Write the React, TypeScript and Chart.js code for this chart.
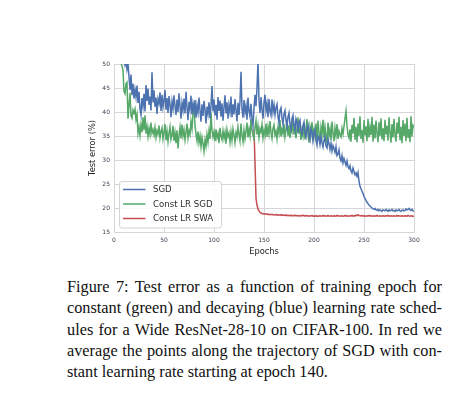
import React, { useEffect, useRef } from "react";
import { Chart, registerables } from "chart.js";

Chart.register(...registerables);

// Test error (%) per epoch, epochs 0..300
const sgdError: number[] = [
  78, 68, 62, 58, 56, 54.5, 53, 52, 51, 50.5,
  51.2, 49.8, 50.6, 48.9, 50.2, 47.3, 44.6, 47.8, 43.5, 45.9,
  42.8, 44.7, 43.1, 45.5, 41.9, 44.2, 40.6, 39.4, 42.9, 41.2,
  43.8, 40.1, 45.6, 42.3, 44.9, 41.5, 43.2, 40.3, 48.3, 42.0,
  44.5, 41.1, 43.0, 39.6, 42.7, 41.8, 44.1, 40.2, 43.6, 41.0,
  42.4, 44.6, 40.5, 42.9, 39.8, 43.3, 41.6, 38.9, 42.2, 40.7,
  43.5, 41.2, 39.4, 42.6, 40.0, 43.9, 41.3, 38.6, 41.9, 40.4,
  42.8, 39.7, 44.2, 41.0, 38.3, 42.1, 40.6, 43.4, 39.5, 41.7,
  40.2, 42.5, 38.8, 41.4, 39.9, 43.0, 40.3, 38.0, 41.6, 39.2,
  42.3, 40.5, 37.6, 41.1, 39.6, 42.0, 38.7, 41.3, 45.4, 40.1,
  42.6, 39.3, 41.5, 38.4, 43.1, 40.2, 42.4, 39.0, 41.8, 38.2,
  40.9, 43.5, 39.7, 42.0, 38.6, 41.4, 40.0, 43.2, 38.9, 41.6,
  39.5, 42.7, 40.3, 38.1, 41.9, 39.4, 42.2, 48.4, 40.6, 38.8,
  42.5, 39.9, 41.3, 38.4, 43.0, 40.2, 39.1, 41.7, 38.6, 37.2,
  40.8, 43.6, 41.2, 45.0, 50.5, 42.4, 39.8, 43.1, 40.5, 38.6,
  42.0, 43.6, 40.3, 41.8, 38.9, 42.7, 40.1, 39.3, 42.6, 40.0,
  41.5, 39.4, 40.9, 41.6, 39.0, 37.8, 40.4, 40.9, 38.7, 37.4,
  39.6, 40.3, 38.2, 36.9, 39.0, 39.8, 37.4, 36.4, 38.6, 39.3,
  37.2, 36.2, 38.6, 37.9, 35.7, 37.8, 38.3, 36.1, 35.4, 37.2,
  37.9, 35.6, 34.8, 36.6, 37.3, 35.0, 34.2, 36.5, 35.9, 34.0,
  35.6, 36.3, 34.2, 33.1, 35.0, 34.6, 33.2, 34.8, 33.6, 32.7,
  34.1, 34.8, 32.9, 32.5, 34.3, 33.4, 32.2, 33.5, 31.9, 33.0,
  32.4, 31.6, 32.8, 30.9, 31.2, 32.1, 30.4, 29.8, 30.9, 29.4,
  30.3, 29.6, 28.9, 29.8, 28.6, 28.2, 28.8, 27.7, 27.3, 28.3,
  27.6, 26.9, 27.3, 26.6, 27.4, 25.6, 24.5, 24.0, 23.5, 23.0,
  22.4, 22.0, 21.6, 21.2, 20.9, 20.6, 20.4, 20.2, 20.0, 19.8,
  19.7, 19.9, 19.6, 19.5, 19.7, 19.4, 19.6, 19.5, 19.3, 19.6,
  19.5, 19.4, 19.7, 19.5, 19.3, 19.6, 19.4, 19.5, 19.7, 19.4,
  19.5, 19.3, 19.6, 19.4, 19.5, 19.7, 19.4, 19.3, 19.5, 19.6,
  19.4, 19.5, 19.8, 19.6, 19.7, 19.9, 19.6, 19.5, 19.7, 19.4,
  19.3,
];

const constLrSgdError: number[] = [
  80, 70, 63, 58, 55, 52.5, 51, 50.2, 49.6, 48.7,
  44.3, 43.8, 45.9, 46.2, 38.6, 41.5, 44.0, 39.2, 38.7, 40.4,
  39.8, 40.6, 38.4, 39.5, 35.6, 36.9, 35.1, 37.4, 35.8, 38.9,
  36.2, 39.3, 35.5, 37.0, 34.9, 36.6, 35.3, 37.8, 35.6, 36.3,
  35.2, 36.8, 34.7, 36.1, 35.4, 37.2, 34.6, 35.9, 36.7, 34.4,
  35.8, 37.5, 34.1, 36.0, 33.8, 35.6, 36.9, 34.3, 35.2, 37.1,
  34.0, 35.7, 33.5, 36.2, 32.4, 35.1, 36.8, 34.5, 37.4, 35.0,
  36.3, 34.2, 35.8, 37.6, 34.6, 36.1, 35.3, 38.0, 36.5, 39.6,
  41.9, 37.2, 35.4, 34.0, 35.9, 33.6, 35.0, 32.8, 34.7, 33.4,
  31.8, 34.2, 32.9, 35.3, 33.7, 36.0, 34.4, 39.8, 36.2, 34.8,
  35.9, 33.9, 36.4, 34.6, 35.5, 33.5, 36.7, 35.0, 34.2, 36.1,
  34.5, 35.8, 33.4, 36.3, 34.9, 35.6, 33.7, 35.9, 34.1, 36.5,
  35.2, 33.6, 35.7, 34.8, 36.9, 35.3, 34.0, 37.6, 35.1, 33.8,
  36.2, 34.4, 35.9, 37.8, 34.7, 36.4, 35.0, 38.6, 36.1, 35.2,
  34.4, 36.8, 38.2, 35.3, 37.1, 34.7, 36.5, 35.8, 37.4, 34.6,
  36.2, 35.1, 37.6, 34.8, 36.9, 35.4, 38.1, 35.7, 34.5, 36.6,
  37.3, 35.2, 36.0, 34.4, 36.8, 35.6, 38.3, 34.9, 36.4, 35.5,
  37.5, 34.8, 36.2, 38.6, 35.0, 37.2, 34.6, 36.7, 35.9, 38.4,
  35.3, 37.0, 34.5, 36.6, 38.9, 35.4, 37.3, 34.2, 36.1, 35.0,
  37.7, 34.3, 36.5, 38.5, 35.2, 33.6, 36.9, 35.5, 37.9, 34.8,
  36.3, 35.0, 37.6, 34.1, 38.2, 35.7, 33.8, 36.8, 35.3, 38.4,
  34.6, 36.9, 35.2, 33.5, 37.8, 35.0, 36.4, 34.2, 38.0, 35.6,
  33.9, 36.7, 35.1, 37.5, 34.4, 36.0, 35.3, 34.8, 36.6, 35.4,
  37.0, 38.7, 40.2, 37.1, 35.3, 34.6, 36.4, 33.8, 37.3, 35.5,
  38.8, 34.2, 36.9, 33.7, 37.6, 35.0, 39.1, 34.4, 36.2, 33.6,
  38.3, 35.1, 37.0, 33.9, 38.6, 34.7, 36.8, 35.2, 39.0, 33.8,
  37.4, 34.5, 38.2, 35.6, 33.7, 37.9, 35.0, 38.7, 34.3, 36.6,
  33.9, 38.4, 35.3, 37.1, 34.0, 38.9, 35.8, 33.6, 37.5, 34.7,
  38.6, 35.2, 33.8, 37.8, 35.5, 39.0, 34.1, 36.9, 33.5, 38.3,
  35.0, 37.6, 33.9, 38.8, 34.6, 36.4, 33.7, 39.1, 34.9, 37.2,
  36.8,
];

// SWA average, starting at epoch 140 (epochs 140..300)
const swaStart = 140;
const constLrSwaError: number[] = [
  36.4, 29.5, 22.0, 20.6, 19.8, 19.4, 19.1, 18.95, 18.85, 18.8,
  18.75, 18.8, 18.7, 18.75, 18.65, 18.7, 18.6, 18.65, 18.7, 18.6,
  18.55, 18.6, 18.65, 18.5, 18.6, 18.55, 18.5, 18.6, 18.45, 18.55,
  18.5, 18.45, 18.55, 18.4, 18.5, 18.45, 18.35, 18.5, 18.4, 18.45,
  18.4, 18.5, 18.35, 18.45, 18.4, 18.3, 18.45, 18.4, 18.35, 18.5,
  18.4, 18.3, 18.45, 18.35, 18.4, 18.3, 18.4, 18.35, 18.45, 18.3,
  18.35, 18.3, 18.4, 18.25, 18.35, 18.3, 18.4, 18.3, 18.35, 18.45,
  18.3, 18.4, 18.35, 18.3, 18.45, 18.35, 18.3, 18.4, 18.35, 18.3,
  18.4, 18.35, 18.3, 18.45, 18.35, 18.4, 18.3, 18.35, 18.4, 18.3,
  18.35, 18.45, 18.3, 18.4, 18.35, 18.3, 18.4, 18.35, 18.45, 18.3,
  18.4, 18.35, 18.5, 18.4, 18.6, 18.45, 18.4, 18.35, 18.45, 18.3,
  18.4, 18.35, 18.3, 18.4, 18.35, 18.45, 18.3, 18.4, 18.35, 18.3,
  18.4, 18.35, 18.3, 18.45, 18.35, 18.3, 18.4, 18.35, 18.3, 18.4,
  18.35, 18.3, 18.4, 18.35, 18.45, 18.3, 18.35, 18.4, 18.3, 18.35,
  18.4, 18.3, 18.35, 18.45, 18.3, 18.4, 18.35, 18.3, 18.4, 18.35,
  18.3, 18.4, 18.35, 18.3, 18.45, 18.35, 18.3, 18.4, 18.35, 18.3,
  18.3,
];

const seriesLabels = ["SGD", "Const LR SGD", "Const LR SWA"];
const seriesColors = ["#4c72b0", "#55a868", "#c44e52"];
const yTicksMin = 15;
const yTicksMax = 50;
const xTicksMax = 300;

const captionLines = [
  "Figure 7: Test error as a function of training epoch for",
  "constant (green) and decaying (blue) learning rate sched-",
  "ules for a Wide ResNet-28-10 on CIFAR-100. In red we",
  "average the points along the trajectory of SGD with con-",
  "stant learning rate starting at epoch 140.",
];

const FONT = "'DejaVu Sans', sans-serif";

const legendPlugin = {
  id: "insideLegend",
  afterDatasetsDraw(chart: any) {
    const ctx = chart.ctx;
    const area = chart.chartArea;
    const x0 = area.left + 5.5;
    const y0 = area.bottom - 50.5;
    const w = 102;
    const h = 46.5;
    ctx.save();
    ctx.beginPath();
    const r = 2.5;
    ctx.moveTo(x0 + r, y0);
    ctx.lineTo(x0 + w - r, y0);
    ctx.quadraticCurveTo(x0 + w, y0, x0 + w, y0 + r);
    ctx.lineTo(x0 + w, y0 + h - r);
    ctx.quadraticCurveTo(x0 + w, y0 + h, x0 + w - r, y0 + h);
    ctx.lineTo(x0 + r, y0 + h);
    ctx.quadraticCurveTo(x0, y0 + h, x0, y0 + h - r);
    ctx.lineTo(x0, y0 + r);
    ctx.quadraticCurveTo(x0, y0, x0 + r, y0);
    ctx.closePath();
    ctx.fillStyle = "rgba(255,255,255,0.85)";
    ctx.fill();
    ctx.strokeStyle = "#d4d4d4";
    ctx.lineWidth = 1;
    ctx.stroke();
    chart.data.datasets.forEach((ds: any, i: number) => {
      const yy = y0 + 8 + i * 14.5;
      ctx.beginPath();
      ctx.moveTo(x0 + 3.5, yy);
      ctx.lineTo(x0 + 26, yy);
      ctx.strokeStyle = ds.borderColor;
      ctx.lineWidth = 1.5;
      ctx.stroke();
      ctx.fillStyle = "#2b2b2b";
      ctx.font = `8.6px ${FONT}`;
      ctx.textBaseline = "middle";
      ctx.textAlign = "left";
      ctx.fillText(ds.label, x0 + 33.5, yy + 0.5);
    });
    ctx.restore();
  },
};

export default function App() {
  const canvasRef = useRef<HTMLCanvasElement | null>(null);

  useEffect(() => {
    if (!canvasRef.current) return;
    const toPoints = (arr: number[], start: number) =>
      arr.map((v, i) => ({ x: start + i, y: v }));
    const seriesData = [
      toPoints(sgdError, 0),
      toPoints(constLrSgdError, 0),
      toPoints(constLrSwaError, swaStart),
    ];
    const chart = new Chart(canvasRef.current, {
      type: "line",
      data: {
        datasets: seriesData.map((d, i) => ({
          label: seriesLabels[i],
          data: d,
          borderColor: seriesColors[i],
          backgroundColor: seriesColors[i],
          borderWidth: 1.5,
          pointRadius: 0,
          tension: 0,
          fill: false,
        })),
      },
      options: {
        animation: false,
        responsive: false,
        devicePixelRatio: 1,
        layout: { padding: { left: 88, top: 64, right: 57, bottom: 3 } },
        plugins: {
          legend: { display: false },
          tooltip: { enabled: false },
        },
        scales: {
          x: {
            type: "linear",
            min: 0,
            max: xTicksMax,
            afterFit: (s: any) => {
              s.height = 25;
            },
            ticks: {
              stepSize: 50,
              padding: 5,
              color: "#3b4150",
              font: { family: FONT, size: 6 },
              maxRotation: 0,
            },
            grid: { color: "#d6d6d6", lineWidth: 1, drawTicks: false },
            border: { display: true, color: "#d6d6d6" },
            title: {
              display: true,
              text: "Epochs",
              color: "#222222",
              padding: 0,
              font: { family: FONT, size: 8.3 },
            },
          },
          y: {
            min: yTicksMin,
            max: yTicksMax,
            afterFit: (s: any) => {
              s.width = 26;
            },
            ticks: {
              stepSize: 5,
              padding: 4,
              color: "#3b4150",
              font: { family: FONT, size: 6 },
            },
            grid: { color: "#d6d6d6", lineWidth: 1, drawTicks: false },
            border: { display: true, color: "#d6d6d6" },
            title: {
              display: true,
              text: "Test error (%)",
              color: "#222222",
              padding: 0,
              font: { family: FONT, size: 8.3 },
            },
          },
        },
      },
      plugins: [legendPlugin],
    } as any);
    return () => chart.destroy();
  }, []);

  return (
    <div style={{ position: "absolute", left: 0, top: 0, width: 471, height: 399, background: "#fff" }}>
      <canvas
        ref={canvasRef}
        width={471}
        height={260}
        style={{ position: "absolute", left: 0, top: 0, width: 471, height: 260 }}
      />
      <div
        style={{
          position: "absolute",
          left: 67,
          top: 276,
          width: 375,
          fontFamily: "'Liberation Serif', 'Times New Roman', serif",
          fontSize: "16.3px",
          lineHeight: "21.3px",
          color: "#111",
        }}
      >
        {captionLines.map((line, i) => (
          <div
            key={i}
            style={{
              whiteSpace: "nowrap",
              textAlign: i === captionLines.length - 1 ? "left" : "justify",
              textAlignLast: i === captionLines.length - 1 ? "left" : "justify",
            }}
          >
            {line}
          </div>
        ))}
      </div>
    </div>
  );
}
